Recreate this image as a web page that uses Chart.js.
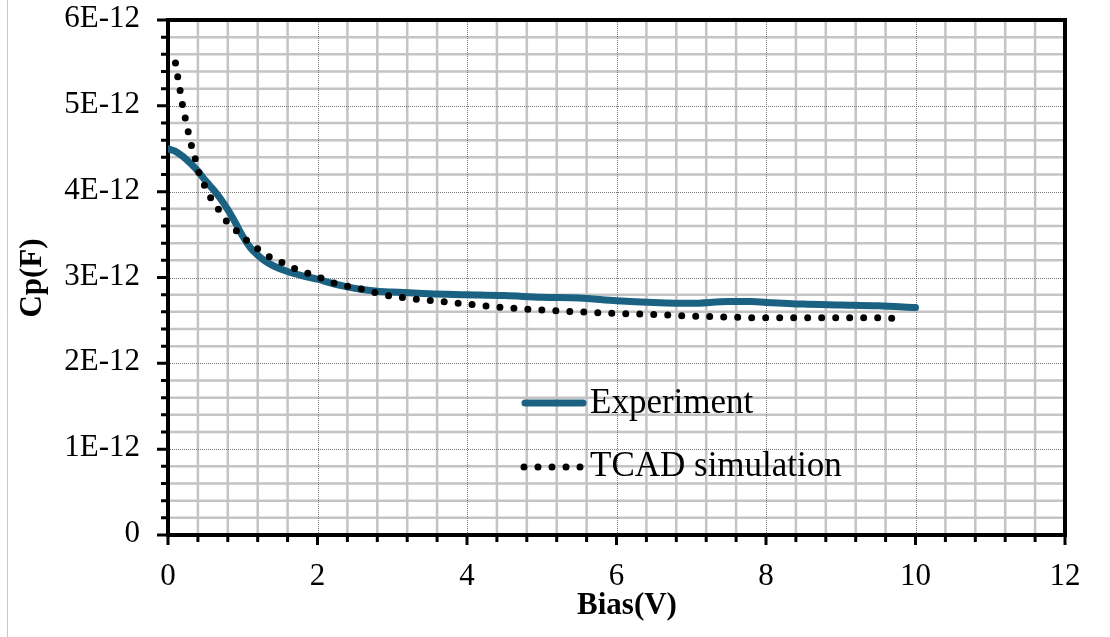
<!DOCTYPE html>
<html>
<head>
<meta charset="utf-8">
<script src="https://cdn.jsdelivr.net/npm/chart.js@4.4.1/dist/chart.umd.min.js"></script>
<style>
  html, body { margin: 0; padding: 0; background: #fff; }
  #wrap { width: 1110px; height: 637px; position: relative; }
</style>
</head>
<body>
<div id="wrap"><canvas id="cpChart" width="1110" height="637"></canvas></div>
<script>
// Experiment: bias (V) and capacitance (units of 1E-12 F)
const biasExp = [0, 0.1, 0.2, 0.3, 0.4, 0.5, 0.6, 0.7, 0.8, 0.9, 1.0, 1.1, 1.2, 1.3, 1.4, 1.6, 1.8, 2.0, 2.2, 2.4, 2.6, 2.8, 3.0, 3.5, 4.0, 4.5, 5.0, 5.5, 6.0, 6.5, 7.0, 7.5, 7.8, 8.0, 8.5, 9.0, 9.5, 10.0];
const capExp = [4.50, 4.47, 4.41, 4.33, 4.24, 4.13, 4.03, 3.92, 3.79, 3.64, 3.48, 3.35, 3.26, 3.19, 3.14, 3.07, 3.02, 2.98, 2.93, 2.89, 2.86, 2.84, 2.83, 2.81, 2.80, 2.79, 2.77, 2.76, 2.73, 2.71, 2.70, 2.72, 2.72, 2.71, 2.69, 2.68, 2.67, 2.65];

// TCAD simulation
const biasSim = [0.1, 0.13, 0.16, 0.19, 0.23, 0.27, 0.31, 0.36, 0.41, 0.49, 0.57, 0.67, 0.78, 0.91, 1.04, 1.19, 1.34, 1.51, 1.68, 1.84, 2.03, 2.21, 2.39, 2.57, 2.75, 2.94, 3.3, 3.66, 4.0, 4.5, 5.0, 5.5, 6.0, 6.5, 7.0, 7.5, 8.0, 8.5, 9.0, 9.5, 9.8];
const capSim = [5.50, 5.34, 5.19, 5.03, 4.86, 4.70, 4.55, 4.40, 4.23, 4.07, 3.93, 3.80, 3.66, 3.55, 3.44, 3.34, 3.25, 3.18, 3.11, 3.06, 3.00, 2.94, 2.90, 2.87, 2.83, 2.79, 2.75, 2.72, 2.69, 2.65, 2.62, 2.60, 2.58, 2.57, 2.55, 2.54, 2.53, 2.53, 2.53, 2.53, 2.52];

const seriesLabels = ["Experiment", "TCAD simulation"];
const xTickValues = [0, 2, 4, 6, 8, 10, 12];
const xTickLabels = ["0", "2", "4", "6", "8", "10", "12"];
const yTickValues = [0, 1, 2, 3, 4, 5, 6];
const yTickLabels = ["0", "1E-12", "2E-12", "3E-12", "4E-12", "5E-12", "6E-12"];
const PF = 1e-12;

const serif = "'Liberation Serif', 'Times New Roman', serif";
const expColor = "#1b6282";

function toPoints(xs, ys) {
  return xs.map((x, i) => ({ x: x, y: ys[i] * PF }));
}

// grid, tick marks, tick labels, frame, legend, axis titles
const framePlugin = {
  id: "frame",
  beforeDatasetsDraw(chart) {
    const { ctx, chartArea: a, scales: { x, y } } = chart;
    ctx.save();
    // minor grid
    ctx.strokeStyle = "#c4c4c4";
    ctx.lineWidth = 2.5;
    ctx.beginPath();
    for (let i = 1; i < 30; i++) {
      if (i % 5 === 0) continue;
      const px = x.getPixelForValue(i * 0.4);
      ctx.moveTo(px, a.top); ctx.lineTo(px, a.bottom);
      const py = y.getPixelForValue(i * 0.2 * PF);
      ctx.moveTo(a.left, py); ctx.lineTo(a.right, py);
    }
    ctx.stroke();
    // major grid, dotted
    ctx.strokeStyle = "#777";
    ctx.lineWidth = 1;
    ctx.setLineDash([1, 1]);
    ctx.beginPath();
    for (let i = 1; i < 6; i++) {
      const px = Math.round(x.getPixelForValue(i * 2)) + 0.5;
      ctx.moveTo(px, a.top); ctx.lineTo(px, a.bottom);
      const py = Math.round(y.getPixelForValue(i * PF)) + 0.5;
      ctx.moveTo(a.left, py); ctx.lineTo(a.right, py);
    }
    ctx.stroke();
    ctx.setLineDash([]);
    // tick marks
    ctx.strokeStyle = "#000";
    ctx.lineWidth = 3;
    ctx.beginPath();
    for (let i = 0; i <= 30; i++) {
      const px = x.getPixelForValue(i * 0.4);
      ctx.moveTo(px, a.bottom); ctx.lineTo(px, a.bottom + (i % 5 === 0 ? 10 : 7));
      const py = y.getPixelForValue(i * 0.2 * PF);
      ctx.moveTo(a.left, py); ctx.lineTo(a.left - (i % 5 === 0 ? 11 : 7), py);
    }
    ctx.stroke();
    // frame
    ctx.lineWidth = 4;
    ctx.strokeRect(a.left, a.top, a.right - a.left, a.bottom - a.top);
    // faint outer border on the left
    ctx.strokeStyle = "#c8c8c8";
    ctx.lineWidth = 1;
    ctx.beginPath();
    ctx.moveTo(7.5, 0); ctx.lineTo(7.5, 637);
    ctx.stroke();
    // tick labels
    ctx.fillStyle = "#000";
    ctx.font = "31px " + serif;
    ctx.textAlign = "right";
    ctx.textBaseline = "middle";
    yTickValues.forEach((v, i) => {
      ctx.fillText(yTickLabels[i], 140, y.getPixelForValue(v * PF) - 1);
    });
    ctx.textAlign = "center";
    ctx.textBaseline = "alphabetic";
    xTickValues.forEach((v, i) => {
      ctx.fillText(xTickLabels[i], x.getPixelForValue(v), 585);
    });
    ctx.restore();
  },
  afterDatasetsDraw(chart) {
    const { ctx } = chart;
    const ds = chart.data.datasets;
    ctx.save();
    // legend
    ctx.lineCap = "round";
    ctx.strokeStyle = ds[0].borderColor;
    ctx.lineWidth = ds[0].borderWidth;
    ctx.beginPath(); ctx.moveTo(525, 403); ctx.lineTo(583, 403); ctx.stroke();
    ctx.strokeStyle = ds[1].borderColor;
    ctx.lineWidth = ds[1].borderWidth;
    ctx.setLineDash(ds[1].borderDash);
    ctx.beginPath(); ctx.moveTo(524, 467); ctx.lineTo(581, 467); ctx.stroke();
    ctx.setLineDash([]);
    ctx.fillStyle = "#000";
    ctx.font = "35px " + serif;
    ctx.textAlign = "left";
    ctx.textBaseline = "alphabetic";
    ctx.fillText(ds[0].label, 590, 413);
    ctx.fillText(ds[1].label, 590, 476);
    // axis titles
    ctx.font = "bold 31px " + serif;
    ctx.textAlign = "center";
    ctx.fillText("Bias(V)", 627, 614);
    ctx.translate(41, 278);
    ctx.rotate(-Math.PI / 2);
    ctx.fillText("Cp(F)", 0, 0);
    ctx.restore();
  }
};

new Chart(document.getElementById("cpChart"), {
  type: "scatter",
  data: {
    datasets: [
      {
        label: seriesLabels[0],
        data: toPoints(biasExp, capExp),
        showLine: true,
        borderColor: expColor,
        borderWidth: 7,
        borderCapStyle: "round",
        borderJoinStyle: "round",
        cubicInterpolationMode: "monotone",
        pointRadius: 0,
        order: 2
      },
      {
        label: seriesLabels[1],
        data: toPoints(biasSim, capSim),
        showLine: true,
        borderColor: "#000",
        borderWidth: 7,
        borderDash: [0, 14],
        borderCapStyle: "round",
        cubicInterpolationMode: "monotone",
        pointRadius: 0,
        order: 1
      }
    ]
  },
  plugins: [framePlugin],
  options: {
    responsive: false,
    animation: false,
    events: [],
    layout: { padding: { left: 0, top: 20, right: 45, bottom: 0 } },
    plugins: { legend: { display: false }, tooltip: { enabled: false } },
    scales: {
      x: {
        type: "linear",
        min: 0,
        max: 12,
        afterFit(s) { s.height = 102; },
        grid: { display: false, drawTicks: false },
        border: { display: false },
        ticks: { display: false }
      },
      y: {
        type: "linear",
        min: 0,
        max: 6 * PF,
        afterFit(s) { s.width = 168; },
        grid: { display: false, drawTicks: false },
        border: { display: false },
        ticks: { display: false }
      }
    }
  }
});
</script>
</body>
</html>
